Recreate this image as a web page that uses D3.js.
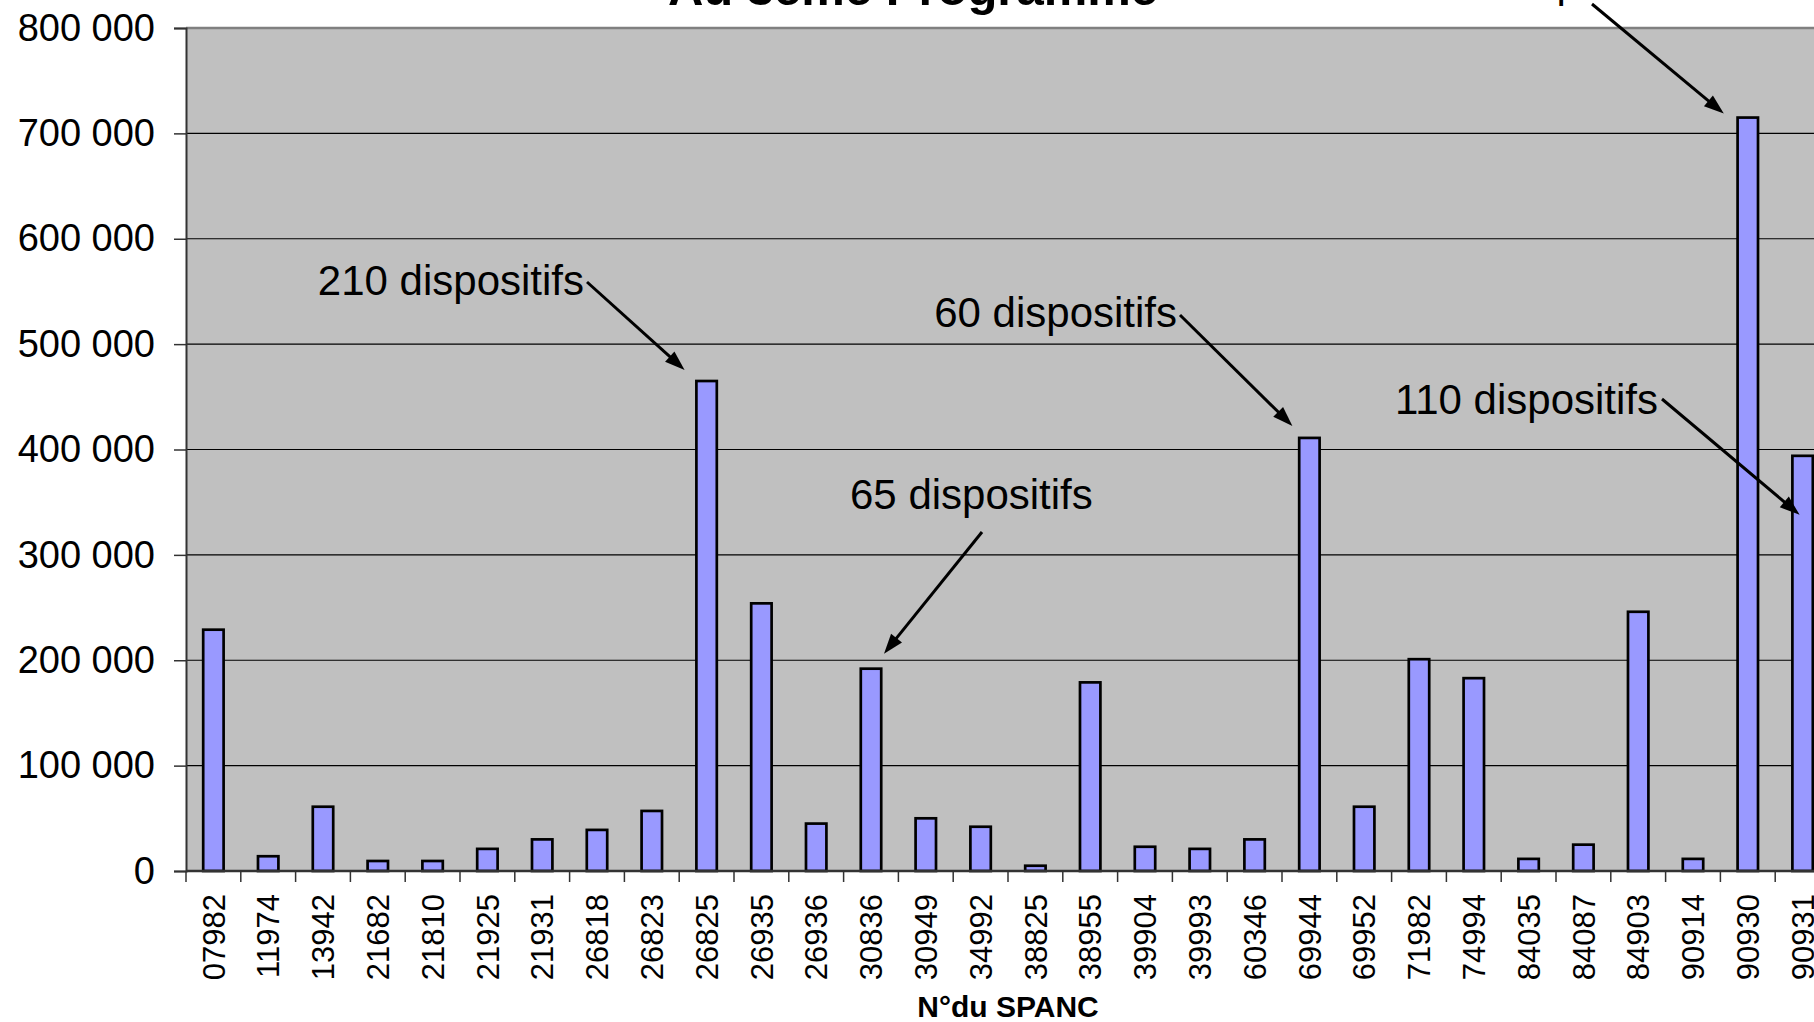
<!DOCTYPE html>
<html>
<head>
<meta charset="utf-8">
<script src="https://cdn.jsdelivr.net/npm/d3@7"></script>
<style>
  html, body { margin: 0; padding: 0; background: #fff; overflow: hidden; }
  svg { display: block; font-family: "Liberation Sans", Arial, sans-serif; }
</style>
</head>
<body>
<div id="chart"></div>
<script>
// N° du SPANC
const spanc = ["07982", "11974", "13942", "21682", "21810", "21925", "21931", "26818",
  "26823", "26825", "26935", "26936", "30836", "30949", "34992", "38825", "38955",
  "39904", "39993", "60346", "69944", "69952", "71982", "74994", "84035", "84087",
  "84903", "90914", "90930", "90931"];

const montants = [229000, 14000, 61000, 9500, 9500, 21000, 30000, 39000,
  57000, 465000, 254000, 45000, 192000, 50000, 42000, 5000, 179000,
  23000, 21000, 30000, 411000, 61000, 201000, 183000, 11500, 25000,
  246000, 11500, 715000, 394000];

const yTicks = [0, 100000, 200000, 300000, 400000, 500000, 600000, 700000, 800000];

// callouts: label text, SPANC pointed at
const noteLabels = ["210 dispositifs", "65 dispositifs", "60 dispositifs", "110 dispositifs", "300 dispositifs"];
const noteTargets = ["26825", "30836", "69944", "90931", "90930"];

const width = 1814;
const height = 1022;
const plotLeft = 186, plotTop = 28, plotBottom = 871;
const step = 54.8;
const plotRight = plotLeft + step * spanc.length;

const fr = d3.formatLocale({decimal: ",", thousands: " ", grouping: [3], currency: ["", " €"]});
const fmt = fr.format(",");

const svg = d3.select("#chart")
  .append("svg")
  .attr("width", width)
  .attr("height", height);

const x = d3.scaleBand()
  .domain(spanc)
  .range([plotLeft, plotRight])
  .paddingInner(0.6)
  .paddingOuter(0.3);

const y = d3.scaleLinear()
  .domain([0, 800000])
  .range([plotBottom, plotTop]);

// plot background
svg.append("rect")
  .attr("x", plotLeft)
  .attr("y", plotTop)
  .attr("width", plotRight - plotLeft)
  .attr("height", plotBottom - plotTop)
  .attr("fill", "#c0c0c0");

// gridlines
svg.append("g")
  .selectAll("line")
  .data(yTicks.filter(d => d > 0 && d < 800000))
  .join("line")
  .attr("x1", plotLeft)
  .attr("x2", plotRight)
  .attr("y1", d => y(d))
  .attr("y2", d => y(d))
  .attr("stroke", "#000")
  .attr("stroke-width", 1.2);

// top border of the plot area
svg.append("line")
  .attr("x1", plotLeft).attr("x2", plotRight)
  .attr("y1", y(800000)).attr("y2", y(800000))
  .attr("stroke", "#808080")
  .attr("stroke-width", 2.5);

// bars
svg.append("g")
  .selectAll("rect")
  .data(spanc)
  .join("rect")
  .attr("x", d => x(d) + 0.75)
  .attr("y", (d, i) => y(montants[i]))
  .attr("width", x.bandwidth() - 1.5)
  .attr("height", (d, i) => y(0) - y(montants[i]))
  .attr("fill", "#9999ff")
  .attr("stroke", "#000")
  .attr("stroke-width", 2.7);

// y axis
const yAxis = svg.append("g")
  .attr("transform", `translate(${plotLeft},0)`)
  .call(d3.axisLeft(y).tickValues(yTicks).tickFormat(fmt).tickSize(12).tickPadding(19));
yAxis.select(".domain").attr("stroke", "#333").attr("stroke-width", 2);
yAxis.selectAll(".tick line").attr("stroke", "#333").attr("stroke-width", 1.5);
yAxis.selectAll(".tick text")
  .attr("font-size", 38)
  .attr("font-family", "Liberation Sans, Arial, sans-serif")
  .attr("fill", "#000");

// x axis line + ticks between categories
svg.append("line")
  .attr("x1", plotLeft).attr("x2", plotRight)
  .attr("y1", plotBottom).attr("y2", plotBottom)
  .attr("stroke", "#333")
  .attr("stroke-width", 2.5);

svg.append("g")
  .selectAll("line")
  .data(d3.range(spanc.length + 1))
  .join("line")
  .attr("x1", i => plotLeft + i * x.step())
  .attr("x2", i => plotLeft + i * x.step())
  .attr("y1", plotBottom)
  .attr("y2", plotBottom + 11)
  .attr("stroke", "#333")
  .attr("stroke-width", 1.5);

// x labels, rotated
svg.append("g")
  .selectAll("text")
  .data(spanc)
  .join("text")
  .attr("transform", d => `translate(${x(d) + x.bandwidth() / 2},${plotBottom + 23}) rotate(-90)`)
  .attr("dy", "0.36em")
  .attr("text-anchor", "end")
  .attr("font-size", 31)
  .text(d => d);

// axis title
svg.append("text")
  .attr("x", (plotLeft + plotRight) / 2)
  .attr("y", 1017)
  .attr("text-anchor", "middle")
  .attr("font-size", 30)
  .attr("font-weight", "bold")
  .text("N°du SPANC");

// chart title (cut at the top like the source)
svg.append("text")
  .attr("x", 913)
  .attr("y", 5)
  .attr("text-anchor", "middle")
  .attr("font-size", 49)
  .attr("font-weight", "bold")
  .text("Au 3ème Programme");

// callouts: text position, arrow start, and tip offset from the bar top
const noteLayout = [
  {tx: 584, ty: 295, anchor: "end", sx: 587, sy: 282, dx: -22, dy: -11},
  {tx: 850, ty: 509, anchor: "start", sx: 982, sy: 532, dx: 13, dy: -15},
  {tx: 1177, ty: 327, anchor: "end", sx: 1180, sy: 315, dx: -17, dy: -12},
  {tx: 1658, ty: 414, anchor: "end", sx: 1662, sy: 399, dx: -3, dy: 59},
  {tx: 1421, ty: -3, anchor: "start", sx: 1592, sy: 4, dx: -24, dy: -4}
];

const notes = svg.append("g");
noteLabels.forEach((label, i) => {
  const L = noteLayout[i];
  const k = spanc.indexOf(noteTargets[i]);
  const ex = x(noteTargets[i]) + x.bandwidth() / 2 + L.dx;
  const ey = y(montants[k]) + L.dy;

  notes.append("text")
    .attr("x", L.tx)
    .attr("y", L.ty)
    .attr("text-anchor", L.anchor)
    .attr("font-size", 42)
    .text(label);

  const ang = Math.atan2(ey - L.sy, ex - L.sx);
  const hl = 20, hw = 7;
  const bx = ex - hl * Math.cos(ang), by = ey - hl * Math.sin(ang);
  notes.append("line")
    .attr("x1", L.sx).attr("y1", L.sy)
    .attr("x2", bx + 2 * Math.cos(ang)).attr("y2", by + 2 * Math.sin(ang))
    .attr("stroke", "#000")
    .attr("stroke-width", 3);
  const px = -Math.sin(ang), py = Math.cos(ang);
  notes.append("path")
    .attr("d", `M${ex},${ey}L${bx + hw * px},${by + hw * py}L${bx - hw * px},${by - hw * py}Z`)
    .attr("fill", "#000");
});
</script>
</body>
</html>
